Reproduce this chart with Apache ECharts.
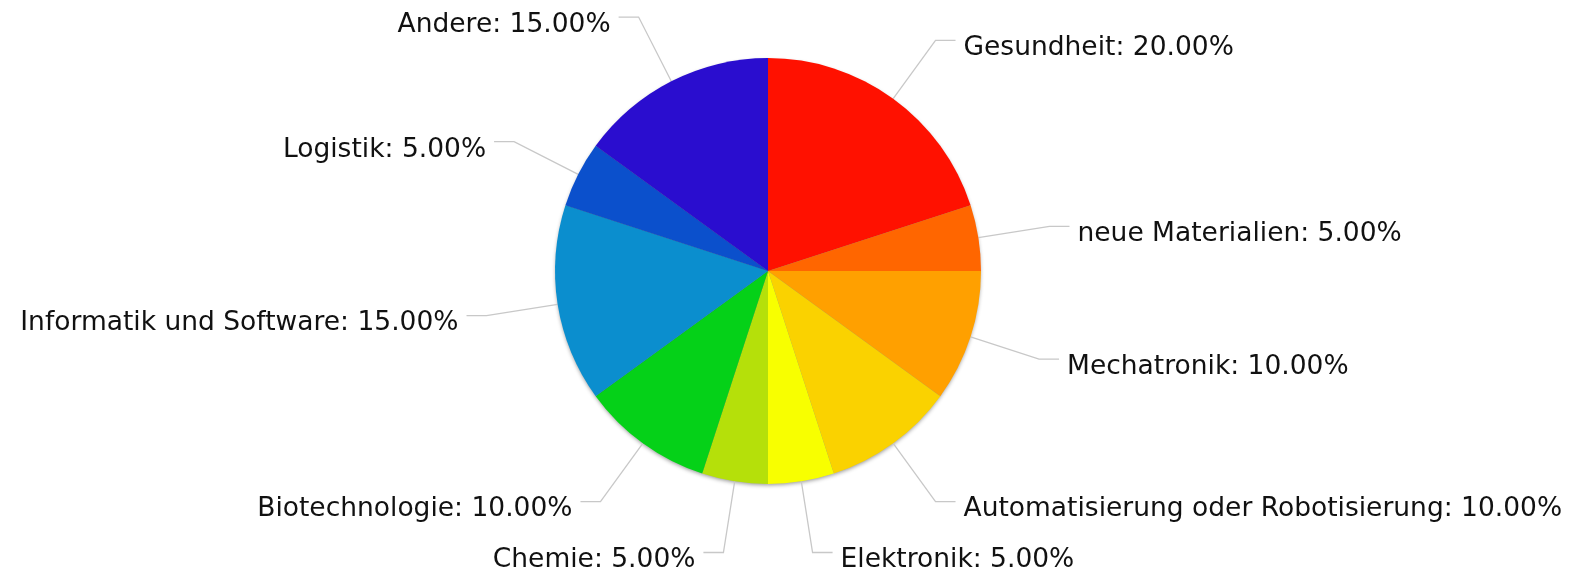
<!DOCTYPE html>
<html>
<head>
<meta charset="utf-8">
<script src="https://cdn.jsdelivr.net/npm/echarts@6/dist/echarts.min.js"></script>
<style>
html,body{margin:0;padding:0;background:#fff;}
#chart{width:1576px;height:570px;}
</style>
</head>
<body>
<div id="chart"></div>
<script>
const categories = ["Gesundheit","neue Materialien","Mechatronik","Automatisierung oder Robotisierung","Elektronik","Chemie","Biotechnologie","Informatik und Software","Logistik","Andere"];
const values = [20,5,10,10,5,5,10,15,5,15];
const colors = ["#ff1100","#ff6600","#ffa000","#fad200","#f8ff00","#b5e00a","#05d118","#0b8ece","#0b50cc","#2a0dcf"];

const chart = echarts.init(document.getElementById('chart'), null, {renderer:'canvas'});
chart.setOption({
  animation:false,
  backgroundColor:'#ffffff',
  series:[{
    type:'pie',
    silent:true,
    z:1,
    center:[768,271],
    radius:[0,212],
    startAngle:90,
    data:values.map(v=>({value:v})),
    itemStyle:{color:'#888',borderWidth:0,shadowBlur:4,shadowOffsetY:2,shadowColor:'rgba(0,0,0,0.45)'},
    label:{show:false},
    labelLine:{show:false}
  },{
    type:'pie',
    z:2,
    center:[768,271],
    radius:[0,213],
    startAngle:90,
    clockwise:true,
    avoidLabelOverlap:false,
    data:categories.map((c,i)=>({name:c,value:values[i],itemStyle:{color:colors[i]}})),
    itemStyle:{borderWidth:0},
    label:{
      show:true,
      formatter:p=>'{t|'+p.name+': '+p.value.toFixed(2)+'%}',
      rich:{t:{fontFamily:'DejaVu Sans',fontSize:26.5,color:'#111',padding:[16,0,0,0]}},
      distanceToLabelLine:8
    },
    labelLine:{show:true,length:72,length2:20,smooth:false,lineStyle:{color:'#c8c8c8',width:1.3}},
    emphasis:{disabled:true}
  }]
});
</script>
</body>
</html>
